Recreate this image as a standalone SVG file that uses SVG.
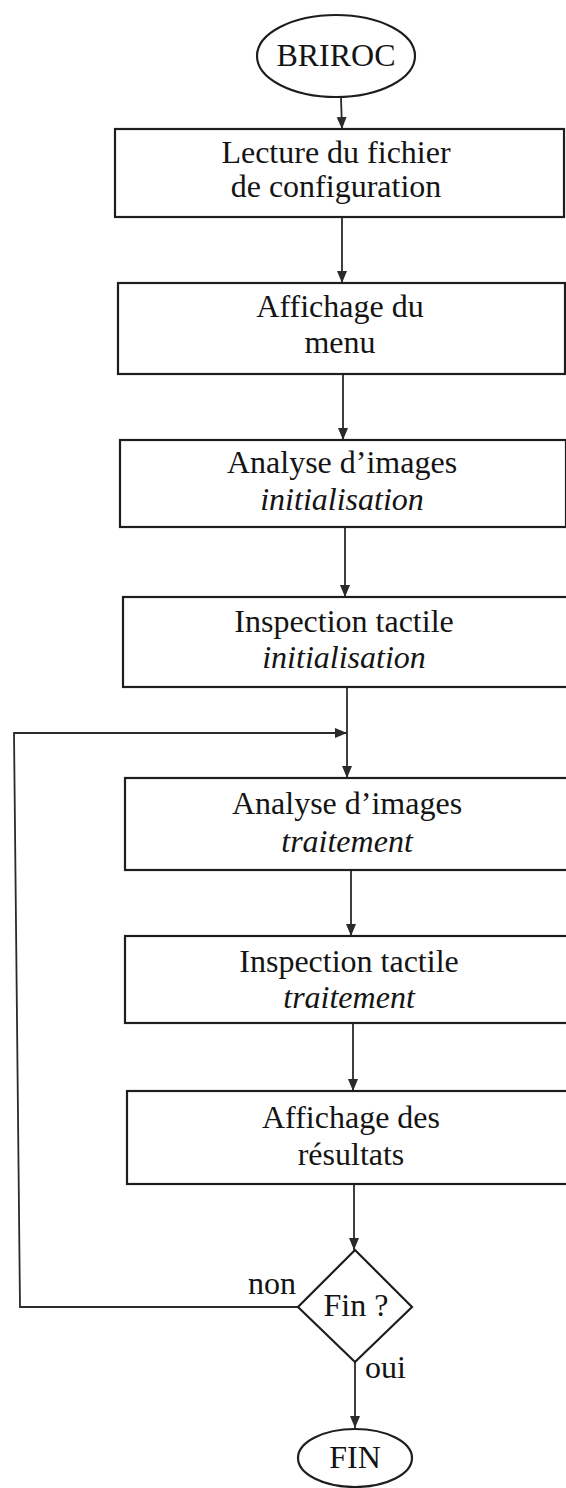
<svg xmlns="http://www.w3.org/2000/svg" width="566" height="1488" viewBox="0 0 566 1488">
  <style>
    .shape { fill: none; stroke: #1e1e1e; stroke-width: 2.2; }
    .link { fill: none; stroke: #2a2a2a; stroke-width: 1.8; }
    .txt { font-family: "Liberation Serif", "DejaVu Serif", serif; font-size: 32px; fill: #141414; text-anchor: middle; }
    .it { font-style: italic; }
    .lbl { font-family: "Liberation Serif", "DejaVu Serif", serif; font-size: 32px; fill: #141414; }
  </style>
  <defs>
    <marker id="arrow" markerUnits="userSpaceOnUse" markerWidth="12" markerHeight="12" viewBox="0 0 12 12" refX="12" refY="6" orient="auto">
      <path d="M0,1 L12,6 L0,11 Z" fill="#2a2a2a"/>
    </marker>
  </defs>
  <rect width="566" height="1488" fill="#ffffff"/>

  <!-- connectors -->
  <g id="connectors">
    <path class="link" d="M341,98 L342,129" marker-end="url(#arrow)"/>
    <path class="link" d="M342,217 L342,283" marker-end="url(#arrow)"/>
    <path class="link" d="M343,374 L343,440" marker-end="url(#arrow)"/>
    <path class="link" d="M345,527 L345,597" marker-end="url(#arrow)"/>
    <path class="link" d="M347,687 L347,778" marker-end="url(#arrow)"/>
    <path class="link" d="M298,1307 L20,1307 L14,733 L347,733" marker-end="url(#arrow)"/>
    <path class="link" d="M351,870 L351,936" marker-end="url(#arrow)"/>
    <path class="link" d="M353,1023 L353,1091" marker-end="url(#arrow)"/>
    <path class="link" d="M354,1184 L354,1250" marker-end="url(#arrow)"/>
    <path class="link" d="M355,1362 L355,1428" marker-end="url(#arrow)"/>
  </g>

  <!-- start -->
  <g id="start">
    <ellipse class="shape" cx="336" cy="56" rx="79" ry="41"/>
    <text class="txt" x="336" y="66">BRIROC</text>
  </g>

  <g id="lecture-config">
    <rect class="shape" x="115" y="129" width="449" height="88"/>
    <text class="txt" x="336" y="163">Lecture du fichier</text>
    <text class="txt" x="336" y="197">de configuration</text>
  </g>

  <g id="affichage-menu">
    <rect class="shape" x="118" y="283" width="447" height="91"/>
    <text class="txt" x="340" y="317">Affichage du</text>
    <text class="txt" x="340" y="353">menu</text>
  </g>

  <g id="analyse-init">
    <rect class="shape" x="120" y="440" width="446" height="87"/>
    <text class="txt" x="342" y="473">Analyse d’images</text>
    <text class="txt it" x="342" y="510">initialisation</text>
  </g>

  <g id="inspection-init">
    <rect class="shape" x="123" y="597" width="445" height="90"/>
    <text class="txt" x="344" y="632">Inspection tactile</text>
    <text class="txt it" x="344" y="668">initialisation</text>
  </g>

  <g id="analyse-traitement">
    <rect class="shape" x="125" y="778" width="443" height="92"/>
    <text class="txt" x="347" y="814">Analyse d’images</text>
    <text class="txt it" x="347" y="852">traitement</text>
  </g>

  <g id="inspection-traitement">
    <rect class="shape" x="125" y="936" width="443" height="87"/>
    <text class="txt" x="349" y="972">Inspection tactile</text>
    <text class="txt it" x="349" y="1008">traitement</text>
  </g>

  <g id="affichage-resultats">
    <rect class="shape" x="127" y="1091" width="441" height="93"/>
    <text class="txt" x="351" y="1128">Affichage des</text>
    <text class="txt" x="351" y="1165">résultats</text>
  </g>

  <!-- decision -->
  <g id="decision">
    <path class="shape" d="M355,1250 L412,1307 L355,1362 L298,1307 Z"/>
    <text class="txt" x="356" y="1316">Fin ?</text>
    <text class="lbl" x="248" y="1294">non</text>
    <text class="lbl" x="365" y="1378">oui</text>
  </g>

  <g id="end">
    <ellipse class="shape" cx="355" cy="1458" rx="57" ry="29"/>
    <text class="txt" x="355" y="1468">FIN</text>
  </g>
</svg>
